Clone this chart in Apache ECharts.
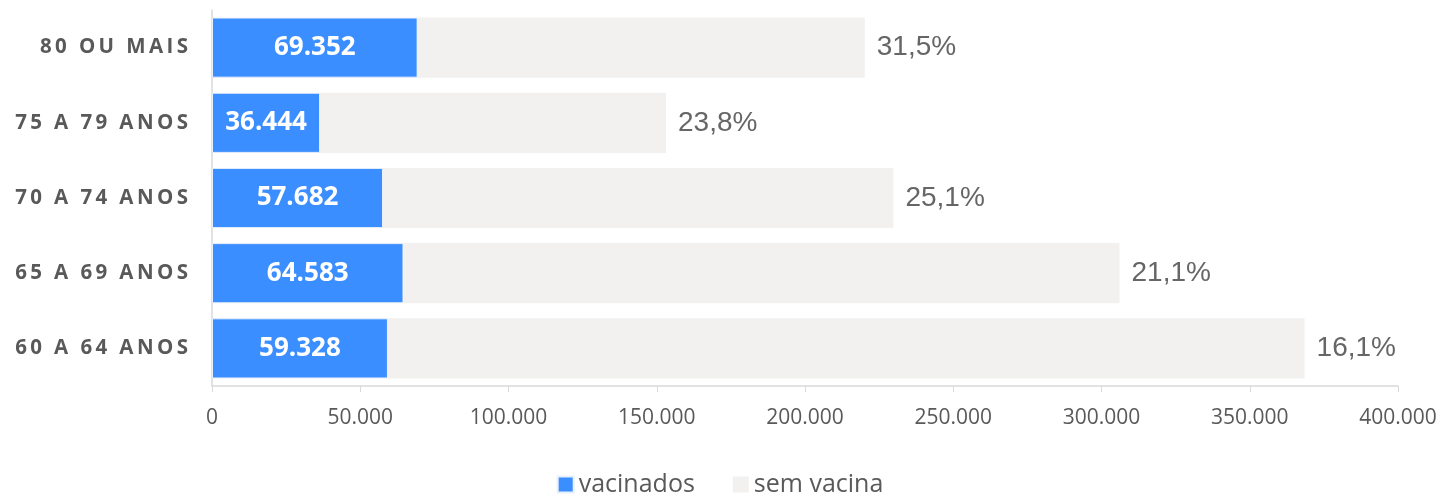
<!DOCTYPE html>
<html>
<head>
<meta charset="utf-8">
<script src="https://cdn.jsdelivr.net/npm/echarts@6/dist/echarts.min.js"></script>
<style>
  html, body { margin: 0; padding: 0; background: #fff; }
  #chart { width: 1440px; height: 496px; }
</style>
</head>
<body>
<div id="chart"></div>
<script>
// faixas etarias, de baixo para cima
const faixas = ['60 A 64 ANOS', '65 A 69 ANOS', '70 A 74 ANOS', '75 A 79 ANOS', '80 OU MAIS']
const vacinados = [59328, 64583, 57682, 36444, 69352]
const semVacina = [309169, 241498, 172127, 116682, 150813]
const percentuais = ['16,1%', '21,1%', '25,1%', '23,8%', '31,5%']

const fmt = v => String(v).replace(/\B(?=(\d{3})+(?!\d))/g, '.')
// espacamento entre letras (o rotulo do eixo nao tem letterSpacing)
const espacar = s => s.split('').join('\u2009')

const myChart = echarts.init(document.getElementById('chart'))
myChart.setOption({
  animation: false,
  grid: { left: 212, right: 42, top: 10, bottom: 110 },
  legend: {
    bottom: -6,
    left: 'center',
    itemWidth: 16,
    itemHeight: 16,
    itemGap: 38,
    icon: 'rect',
    textStyle: { fontFamily: 'Open Sans', fontSize: 25, color: '#595959' },
    data: ['vacinados', 'sem vacina']
  },
  xAxis: {
    type: 'value',
    min: 0,
    max: 400000,
    interval: 50000,
    axisLine: { show: true, lineStyle: { color: '#d9d9d9', width: 1.5 } },
    axisTick: { show: true, length: 6, lineStyle: { color: '#d9d9d9' } },
    splitLine: { show: false },
    axisLabel: {
      margin: 22,
      fontFamily: 'Open Sans',
      fontSize: 21,
      color: '#595959',
      formatter: v => fmt(v)
    }
  },
  yAxis: {
    type: 'category',
    data: faixas,
    axisLine: { show: true, lineStyle: { color: '#d9d9d9', width: 1.5 } },
    axisTick: { show: false },
    axisLabel: {
      margin: 24,
      fontFamily: 'Open Sans',
      fontWeight: 'bold',
      fontSize: 20.5,
      color: '#595959',
      formatter: v => espacar(v)
    }
  },
  series: [
    {
      name: 'vacinados',
      type: 'bar',
      stack: 'total',
      barCategoryGap: '20%',
      data: vacinados,
      itemStyle: { color: '#3a8eff', borderColor: '#e8f0fb', borderWidth: 1 },
      label: {
        show: true,
        position: 'inside',
        fontFamily: 'Open Sans',
        fontWeight: 'bold',
        fontSize: 26,
        color: '#fff',
        formatter: p => fmt(p.value)
      }
    },
    {
      name: 'sem vacina',
      type: 'bar',
      stack: 'total',
      data: semVacina,
      itemStyle: { color: '#f2f1f0' },
      label: {
        show: true,
        position: 'right',
        distance: 12,
        fontFamily: 'Liberation Sans',
        fontSize: 28,
        color: '#666',
        formatter: p => percentuais[p.dataIndex]
      }
    }
  ]
})
</script>
</body>
</html>
